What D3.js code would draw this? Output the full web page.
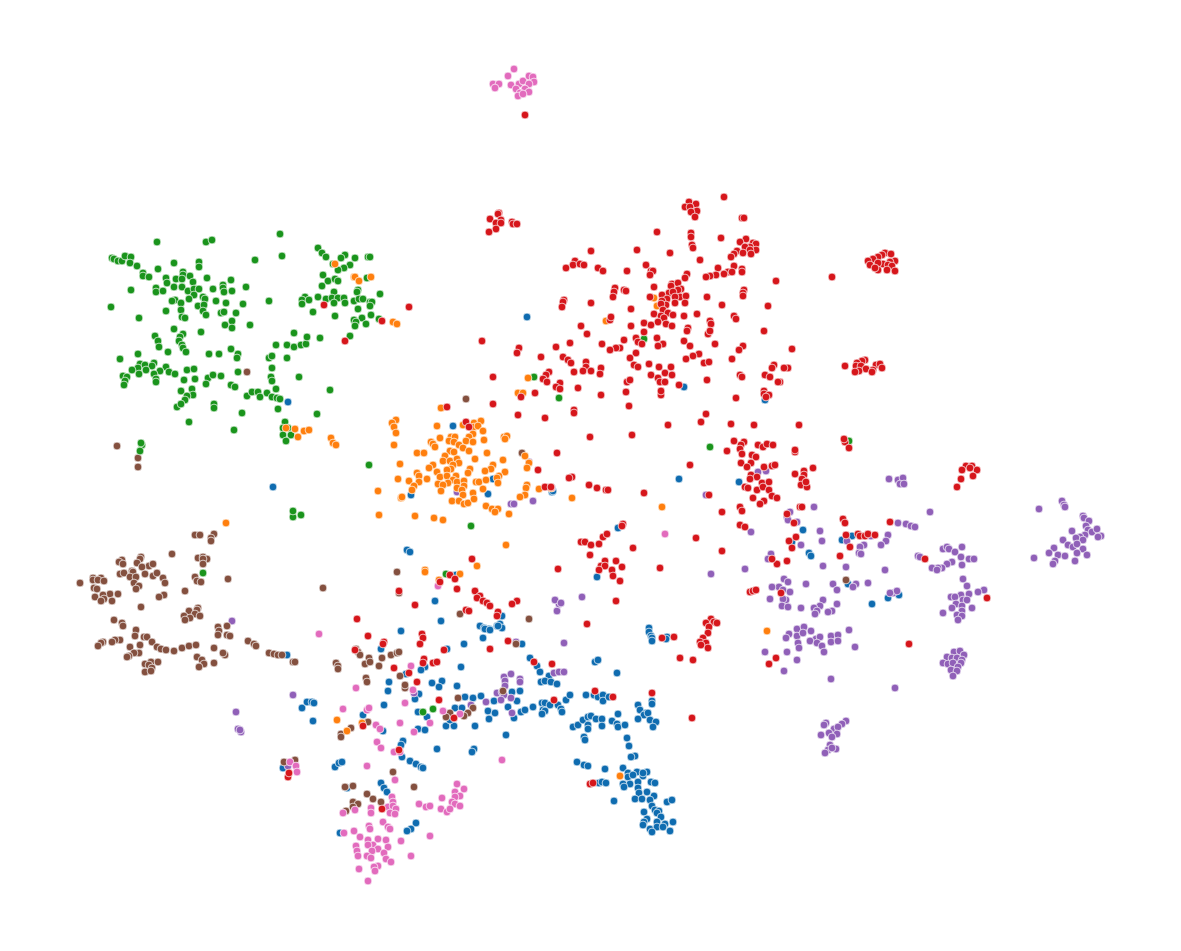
<!DOCTYPE html>
<html>
<head>
<meta charset="utf-8">
<title>scatter</title>
<script src="https://cdnjs.cloudflare.com/ajax/libs/d3/7.8.5/d3.min.js"></script>
<style>
html, body { margin: 0; padding: 0; background: #fff; }
svg { display: block; }
</style>
</head>
<body>
<div id="chart"></div>
<script>
// values, one list per cluster label
var bluePts = [[453,426],[493,479],[488,494],[411,495],[552,492],[553,491],[679,479],[407,550],[410,552],[456,575],[435,601],[441,621],[618,528],[597,577],[480,626],[484,628],[497,626],[500,624],[502,628],[489,629],[502,616],[649,628],[288,402],[527,317],[684,387],[765,400],[287,655],[273,487],
[302,708],[307,702],[312,702],[314,703],[313,721],[401,631],[485,629],[490,630],[498,626],[483,638],[464,644],[447,649],[522,644],[381,649],[461,667],[425,667],[421,670],[406,674],[432,683],[442,681],[439,687],[457,686],[389,682],[388,691],[419,694],[415,699],[465,697],[473,698],[481,696],[384,705],[363,715],[455,708],[462,708],[418,712],[427,717],[488,711],[495,713],[494,701],[512,692],[520,691],[517,701],[508,707],[521,712],[525,710],[514,718],[533,707],[489,719],[446,726],[454,726],[450,720],[475,726],[418,729],[425,730],[383,731],[506,735],[403,741],[401,745],[437,749],[474,749],[472,752],[402,757],[410,761],[416,764],[421,767],[423,768],[335,767],[339,763],[342,762],[283,768],[381,783],[384,788],[387,792],[347,788],[416,823],[411,829],[407,831],[340,833],
[530,658],[537,666],[540,672],[549,676],[541,682],[545,681],[551,682],[557,684],[617,673],[595,662],[598,660],[542,703],[545,703],[550,705],[558,705],[566,700],[570,695],[543,710],[545,711],[542,714],[561,709],[562,712],[586,695],[594,695],[598,697],[603,695],[603,701],[609,697],[573,727],[578,725],[583,720],[588,717],[591,716],[596,719],[602,719],[588,725],[588,729],[602,726],[612,721],[617,724],[618,727],[625,725],[584,737],[585,740],[577,762],[584,765],[588,766],[605,769],[599,783],[602,782],[606,783],[614,801],
[649,632],[651,636],[652,638],[652,641],[667,637],[666,639],[872,604],[652,701],[652,704],[638,705],[640,710],[646,713],[644,715],[648,713],[638,719],[650,720],[656,722],[653,727],[618,714],[627,738],[629,746],[635,756],[631,757],[623,768],[628,773],[628,777],[637,772],[633,775],[643,776],[647,772],[643,773],[638,782],[630,784],[623,784],[624,787],[651,782],[655,783],[638,788],[647,792],[639,793],[654,796],[635,799],[642,799],[650,800],[667,802],[672,800],[652,806],[655,810],[659,811],[657,813],[644,812],[661,817],[647,819],[644,822],[657,822],[665,824],[673,822],[643,825],[650,829],[657,827],[663,827],[652,832],[670,831],
[739,482],[803,530],[792,542],[842,540],[852,536],[809,553],[811,556],[848,584],[888,598],[899,595]];

var orangePts = [[441,408],[396,420],[392,423],[394,427],[396,433],[394,445],[437,426],[474,423],[481,421],[474,427],[478,426],[483,431],[463,425],[473,434],[469,437],[440,438],[451,437],[455,437],[449,441],[454,442],[459,445],[466,441],[473,442],[484,440],[431,442],[433,444],[435,447],[504,437],[507,436],[505,439],[463,448],[469,451],[417,453],[424,453],[450,451],[445,456],[454,452],[487,453],[525,456],[529,463],[527,468],[475,459],[503,460],[443,461],[450,461],[457,459],[459,463],[453,465],[400,464],[433,465],[429,468],[493,465],[491,469],[485,471],[451,469],[447,470],[470,469],[468,473],[437,472],[505,472],[417,473],[419,476],[440,477],[447,476],[456,476],[398,479],[409,481],[427,479],[419,482],[453,480],[448,483],[438,484],[443,485],[457,482],[464,481],[476,482],[479,482],[486,480],[499,476],[497,478],[498,483],[414,486],[412,490],[464,486],[457,488],[462,490],[483,489],[527,485],[526,488],[441,491],[539,489],[551,488],[378,491],[473,493],[463,495],[525,495],[520,497],[401,498],[402,497],[572,498],[452,501],[459,501],[464,504],[468,503],[474,499],[486,506],[492,509],[498,509],[495,512],[509,514],[379,515],[415,516],[434,518],[443,520],[662,507],[506,545],[477,566],[425,570],[425,572],[460,574],[439,580],
[335,264],[354,277],[355,277],[359,281],[371,277],[393,322],[397,324],[286,428],[295,429],[304,431],[309,430],[298,437],[331,438],[333,443],[336,445],[528,378],[518,393],[523,393],[654,298],[657,306],[606,321],[226,523],[337,720],[347,731],[362,723],[767,631],[620,776]];

var greenPts = [[157,242],[206,242],[212,240],[280,234],[282,256],[255,260],[112,258],[114,259],[118,261],[122,261],[125,256],[131,257],[130,263],[137,266],[174,263],[199,262],[199,267],[158,269],[143,273],[143,276],[149,277],[183,272],[183,275],[190,276],[166,278],[176,279],[182,279],[167,283],[193,282],[207,278],[231,280],[131,290],[156,288],[156,292],[163,291],[174,287],[182,287],[188,291],[194,289],[199,289],[213,289],[223,285],[223,288],[224,292],[232,291],[246,287],[194,295],[189,299],[203,297],[205,299],[175,300],[172,301],[216,301],[226,303],[243,304],[269,301],[181,303],[198,306],[204,305],[111,307],[166,311],[181,310],[203,311],[221,313],[224,312],[236,313],[139,318],[182,317],[185,318],[206,315],[232,321],[225,325],[232,328],[250,325],[174,329],[201,332],[183,334],[180,337],[179,341],[182,345],[183,348],[186,352],[155,336],[158,341],[159,347],[168,352],[138,354],[209,354],[219,354],[231,349],[238,354],[237,358],[120,359],[140,364],[145,365],[154,363],[152,366],[166,367],[138,368],[132,370],[146,370],[139,374],[123,376],[127,377],[125,381],[124,385],[160,371],[154,374],[169,372],[175,374],[156,379],[156,382],[187,370],[194,369],[195,379],[184,380],[208,378],[213,375],[221,376],[206,384],[238,372],[231,385],[235,387],[192,389],[181,391],[193,395],[187,396],[185,400],[177,407],[181,404],[214,404],[214,408],[247,396],[252,392],[258,392],[260,397],[267,393],[272,397],[277,398],[280,399],[276,389],[271,377],[272,381],[272,368],[287,358],[269,358],[272,356],[276,345],[287,345],[294,347],[294,333],[301,345],[306,344],[307,337],[320,338],[299,377],[330,390],[317,414],[278,409],[242,413],[189,422],[234,430],
[318,248],[322,253],[326,257],[345,255],[341,258],[355,258],[333,264],[350,265],[344,268],[338,270],[368,257],[370,257],[323,275],[328,281],[335,279],[338,281],[322,286],[367,278],[358,290],[357,292],[380,294],[334,292],[318,297],[305,297],[302,300],[309,300],[302,304],[326,299],[332,298],[338,298],[344,298],[334,303],[345,303],[354,301],[359,299],[363,299],[370,302],[372,302],[370,306],[358,309],[313,312],[335,316],[371,315],[362,318],[379,319],[354,320],[356,322],[366,324],[355,326],[350,336],
[285,422],[283,428],[283,435],[291,435],[286,441],[288,428],[142,445],[140,451],[141,443],[369,465],[471,526],[559,398],[534,377],[644,339],[446,574],[710,447],[849,441],[203,573],[293,517],[301,515],[293,511],[423,712],[433,709]];

var redPts = [[499,213],[498,214],[490,219],[501,220],[496,223],[501,223],[496,229],[489,232],[512,222],[513,224],[517,224],[724,197],[689,202],[696,204],[685,207],[690,207],[697,211],[691,212],[695,217],[742,218],[744,218],[657,232],[691,233],[691,237],[721,238],[692,245],[693,248],[746,239],[740,242],[753,243],[756,244],[750,247],[745,247],[756,250],[750,250],[737,251],[743,253],[751,254],[734,254],[731,257],[591,251],[637,250],[670,253],[700,260],[575,261],[573,265],[580,264],[584,265],[566,268],[598,268],[603,271],[627,271],[646,265],[651,271],[653,271],[650,275],[718,268],[734,266],[742,269],[728,272],[732,272],[742,272],[724,274],[716,275],[710,276],[706,277],[687,274],[685,278],[776,281],
[672,284],[678,283],[671,286],[681,289],[678,290],[654,287],[669,293],[662,295],[673,292],[680,297],[686,296],[675,297],[667,299],[662,301],[685,303],[675,303],[666,305],[661,304],[707,297],[744,290],[743,293],[743,296],[615,288],[614,292],[613,297],[624,290],[626,291],[650,297],[564,300],[563,302],[562,307],[591,303],[631,309],[722,305],[768,306],[663,310],[668,313],[654,314],[661,316],[673,315],[664,318],[684,316],[697,314],[734,316],[736,319],[658,322],[666,324],[672,326],[644,323],[651,325],[631,326],[581,326],[710,321],[711,324],[688,328],[687,331],[610,320],[611,317],[644,332],[708,334],[710,331],[764,331],[587,334],[482,341],[636,338],[638,342],[657,338],[642,344],[684,341],[690,346],[715,344],[663,344],[658,346],[570,343],[602,344],[624,340],[620,348],[616,348],[610,350],[556,347],[519,348],[517,353],[541,357],[743,346],[739,350],[792,349],[699,354],[693,356],[686,359],[636,353],[630,358],[732,359],[704,363],[709,362],[563,357],[568,360],[571,363],[586,362],[586,367],[649,364],[634,365],[638,367],[659,367],[671,367],[774,365],[772,368],[788,368],[784,368],[583,371],[591,371],[574,372],[601,368],[600,374],[549,372],[546,375],[543,379],[547,382],[651,375],[665,373],[672,375],[658,378],[765,375],[740,375],[742,377],[770,377],[493,377],[627,382],[630,380],[660,382],[665,382],[707,380],[780,382],[778,382],[560,383],[556,387],[560,389],[578,388],[679,385],[535,393],[521,397],[601,395],[626,392],[661,395],[661,391],[764,391],[764,394],[769,395],[766,397],[736,398],[493,404],[629,406],[574,410],[574,413],[518,415],[545,418],[706,414],[701,422],[668,425],[731,424],[754,425],[799,425],
[447,407],[466,422],[469,427],[590,437],[632,435],[557,453],[690,465],[538,470],[572,477],[569,478],[589,485],[597,488],[606,490],[608,490],[644,493],[545,487],[551,487],[623,524],[622,526],[603,537],[607,534],[581,542],[585,542],[591,545],[599,544],[590,555],[633,548],[696,538],[605,561],[601,566],[605,566],[616,561],[622,567],[599,570],[612,570],[613,576],[620,581],[558,569],[660,568],[472,559],[450,575],[455,579],[440,582],[457,589],[399,591],[475,591],[480,596],[477,598],[483,601],[487,603],[490,606],[517,601],[512,604],[616,601],[415,605],[466,610],[469,611],[498,612],[497,616],[587,624],
[734,441],[744,442],[741,445],[740,449],[727,451],[742,454],[758,445],[763,447],[767,444],[773,445],[795,452],[795,450],[845,442],[844,439],[849,448],[752,455],[756,457],[741,463],[751,463],[747,467],[764,467],[772,466],[775,465],[813,468],[804,471],[804,475],[795,474],[802,479],[801,485],[807,487],[806,482],[966,466],[962,470],[972,466],[977,470],[973,476],[970,468],[961,479],[957,487],[751,475],[757,477],[750,479],[762,483],[769,482],[745,487],[748,488],[757,490],[763,487],[769,490],[753,498],[772,496],[777,498],[764,501],[760,504],[709,495],[740,507],[742,511],[722,512],[800,507],[802,507],[787,514],[794,523],[843,519],[845,523],[890,522],[740,525],[745,527],[846,535],[858,534],[860,536],[865,536],[868,534],[875,535],[796,537],[789,541],[792,548],[850,547],[722,551],[840,556],[777,564],[787,561],[772,559],[925,559],[750,592],[753,591],[756,590],[781,593],[987,598],[909,644],[776,658],[769,664],
[711,619],[706,623],[714,622],[717,623],[709,627],[708,633],[703,638],[700,642],[706,643],[701,645],[708,648],[674,637],[662,638],[680,658],[693,660],[692,718],[552,664],[595,691],[613,697],[652,693],[554,700],[590,784],[593,783],
[368,636],[422,634],[423,638],[420,644],[384,642],[383,644],[444,650],[355,650],[508,641],[490,649],[424,659],[423,663],[433,663],[437,662],[534,662],[394,668],[409,673],[417,682],[439,700],[454,718],[363,726],[399,750],[288,777],[289,773],[382,809],[357,619],
[409,307],[324,305],[382,321],[345,341],[832,277],[525,115],
[885,253],[891,254],[882,255],[878,257],[873,259],[868,261],[895,261],[890,262],[883,264],[878,263],[870,265],[888,265],[892,266],[878,270],[887,270],[895,271],[875,268],
[845,366],[865,360],[862,361],[857,363],[856,366],[861,366],[866,369],[876,365],[880,364],[882,368],[873,370],[872,372],[859,371],[855,372]];

var purplePts = [[889,479],[898,480],[903,478],[900,484],[904,484],[930,512],[1039,509],[1062,501],[1064,505],[1065,507],[1083,516],[1084,518],[1089,521],[1086,526],[1088,530],[1092,532],[1097,529],[1101,536],[1098,537],[1072,531],[1085,535],[1080,537],[1076,538],[1063,540],[1083,540],[1068,545],[1073,547],[1077,544],[1083,549],[1054,548],[1049,553],[1058,555],[1065,556],[1077,553],[1087,555],[1055,561],[1053,564],[1075,561],[1034,558],
[814,507],[790,512],[787,517],[788,520],[797,522],[758,472],[766,471],[706,495],[751,532],[820,531],[822,541],[801,545],[888,535],[886,541],[881,545],[864,545],[860,547],[859,553],[861,554],[898,523],[906,524],[911,526],[915,527],[847,541],[871,536],[771,554],[768,559],[823,566],[846,567],[885,570],[711,574],[745,569],[943,549],[947,547],[949,549],[962,547],[955,552],[961,557],[969,559],[974,559],[918,556],[920,557],[952,562],[947,564],[942,568],[938,568],[932,568],[937,570],[962,565],[963,579],[967,586],[984,590],[978,592],[961,595],[969,594],[951,597],[955,597],[963,600],[967,600],[956,604],[952,608],[962,606],[972,608],[962,611],[943,613],[957,615],[962,616],[958,620],
[784,579],[788,582],[779,587],[772,587],[783,590],[790,592],[806,584],[833,584],[837,590],[856,584],[868,583],[853,587],[893,593],[897,591],[890,593],[770,599],[786,600],[783,599],[782,606],[788,607],[801,608],[823,600],[820,606],[814,608],[817,611],[815,614],[837,604],[832,611],[828,612],[797,629],[804,627],[811,631],[789,634],[786,638],[797,636],[803,633],[816,639],[820,637],[810,641],[817,643],[831,636],[838,635],[831,642],[838,641],[849,630],[798,643],[799,648],[822,646],[824,652],[855,647],[765,652],[787,652],[797,660],[784,671],[831,679],[895,688],
[954,652],[960,651],[964,655],[947,657],[952,658],[957,658],[962,660],[943,663],[948,664],[953,663],[961,663],[958,667],[951,670],[957,671],[953,676],
[846,721],[842,724],[826,723],[824,725],[834,729],[838,727],[829,733],[837,734],[821,735],[832,737],[830,745],[836,749],[828,750],[825,753],[832,748],
[564,643],[557,611],[559,604],[555,600],[561,603],[582,597],[511,504],[514,504],[533,501],[457,492],[552,488],[529,462],[232,621],[293,695],[236,712],[238,729],[241,732],[240,730],[414,693],
[516,642],[504,677],[511,674],[505,681],[520,679],[520,682],[505,686],[497,693],[502,692],[504,695],[511,698],[501,700],[486,702],[471,705],[512,713],[554,673],[559,672],[564,672],[288,766]];

var brownPts = [[195,535],[200,535],[214,534],[211,538],[211,541],[172,554],[198,558],[203,557],[207,559],[203,559],[203,564],[141,557],[122,560],[119,562],[123,564],[140,559],[137,563],[149,566],[153,564],[142,567],[145,574],[80,583],[93,578],[101,578],[93,580],[98,580],[104,581],[120,574],[124,573],[132,571],[133,572],[130,577],[136,577],[153,576],[157,573],[163,578],[165,583],[195,577],[197,581],[201,582],[228,579],[134,583],[139,586],[136,589],[94,588],[97,589],[110,594],[118,594],[103,595],[95,597],[104,599],[101,601],[112,601],[185,591],[164,595],[159,597],[323,588],[141,607],[397,572],[399,593],[198,608],[197,610],[189,611],[195,614],[200,616],[184,616],[190,618],[185,620],[114,620],[122,623],[123,626],[136,630],[135,636],[144,637],[147,637],[218,627],[227,626],[219,631],[218,635],[227,635],[230,636],[120,640],[115,640],[112,642],[103,642],[101,643],[98,646],[152,642],[248,641],[254,644],[256,646],[130,647],[140,645],[157,647],[161,649],[166,650],[174,651],[182,648],[189,646],[196,645],[214,648],[139,653],[134,653],[129,656],[127,657],[225,655],[223,653],[269,653],[274,654],[278,655],[282,655],[197,657],[202,660],[293,662],[295,662],[151,662],[158,662],[145,664],[149,665],[214,663],[204,664],[199,667],[152,668],[145,672],[151,671],
[356,649],[358,652],[360,655],[369,658],[365,664],[370,662],[382,658],[379,666],[391,655],[397,653],[399,652],[400,676],[336,663],[338,666],[338,669],[366,678],[367,682],[405,688],[405,685],[368,722],[351,728],[341,734],[341,737],[458,698],[473,708],[468,713],[464,716],[450,713],[446,717],[516,644],[503,691],[295,760],[284,762],[393,772],[414,787],[353,786],[345,787],[367,794],[373,799],[381,802],[353,802],[358,804],[353,807],[346,811],[529,619],[466,399],[522,453],[460,614],[247,372],[117,446],[138,458],[138,467],[846,580]];

var pinkPts = [[514,69],[508,76],[493,84],[499,84],[495,88],[511,85],[519,84],[523,81],[529,76],[533,77],[534,82],[529,84],[525,89],[516,89],[529,92],[520,93],[518,96],[523,94],
[319,634],[411,666],[356,688],[413,690],[405,703],[343,709],[367,710],[369,708],[443,711],[400,723],[376,725],[380,729],[414,732],[430,723],[377,742],[381,748],[394,752],[400,752],[460,714],[502,760],[367,766],[290,762],[296,766],[297,772],[395,780],[457,784],[464,789],[455,792],[442,798],[460,796],[455,797],[452,802],[455,804],[460,806],[419,804],[426,807],[430,806],[441,809],[447,812],[450,809],[392,797],[393,802],[388,807],[393,806],[371,808],[396,809],[371,813],[343,813],[355,810],[390,813],[395,814],[383,822],[369,826],[370,829],[388,827],[390,829],[344,833],[354,831],[360,837],[430,836],[401,841],[368,840],[378,839],[386,840],[356,846],[373,845],[368,845],[378,849],[388,847],[357,851],[372,851],[367,856],[384,853],[358,856],[371,858],[386,859],[391,862],[411,856],[378,866],[374,867],[359,869],[375,871],[368,881],[665,534],[438,586]];

var seriesNames = ["blue", "purple", "brown", "pink", "green", "orange", "red"];
var seriesPts = [bluePts, purplePts, brownPts, pinkPts, greenPts, orangePts, redPts];
var colorArr = ["#0f6cb0", "#9060b8", "#84503f", "#e26bbd", "#1a941c", "#ff7f0e", "#d6161b"];

var width = 1181, height = 951;

// picture has no axes, the scales just carry the read values onto the canvas
var xScale = d3.scaleLinear().domain([0, 1181]).range([0, width]);
var yScale = d3.scaleLinear().domain([0, 951]).range([0, height]);
var color = d3.scaleOrdinal().domain(seriesNames).range(colorArr);

var svg = d3.select("#chart").append("svg")
    .attr("width", width)
    .attr("height", height);

seriesNames.forEach(function(name, i) {
    svg.append("g")
        .attr("class", "series-" + name)
        .selectAll("circle")
        .data(seriesPts[i])
        .enter()
        .append("circle")
        .attr("cx", function(d) { return xScale(d[0]); })
        .attr("cy", function(d) { return yScale(d[1]); })
        .attr("r", 3.9)
        .attr("fill", color(name))
        .attr("stroke", "#fff")
        .attr("stroke-width", 0.7);
});
</script>
</body>
</html>
